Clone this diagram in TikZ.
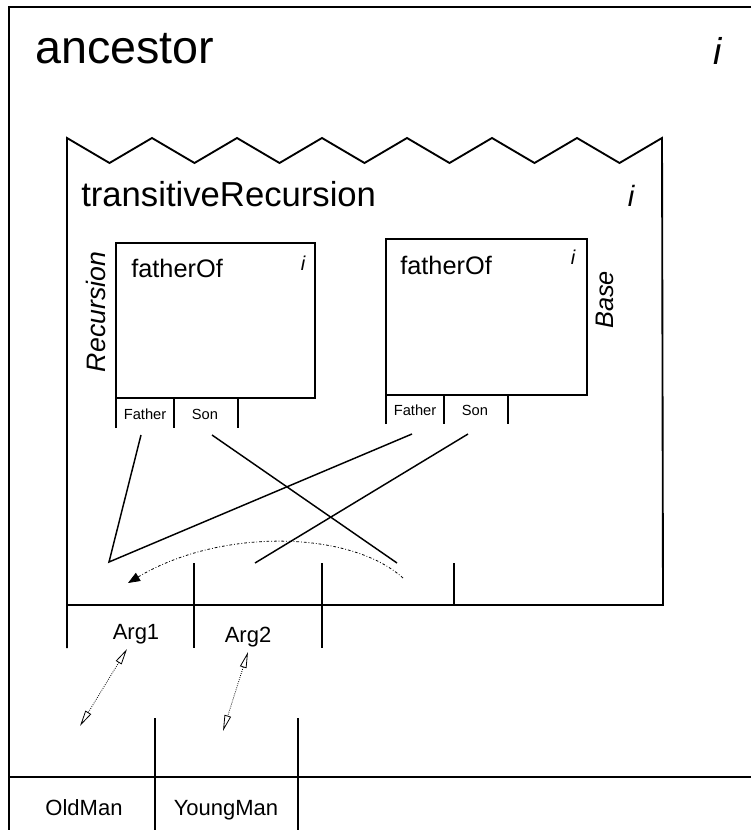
\documentclass[tikz,border=0pt]{standalone}
\usepackage{fontspec}
\setmainfont{Liberation Sans}
\usepackage{tikz}
\usetikzlibrary{arrows.meta, positioning, calc}

\begin{document}
\begin{tikzpicture}[x=0.75pt, y=-0.75pt,
  frame/.style={draw, line width=1.4pt},
  tick/.style={draw, line width=0.9pt},
  link/.style={draw, line width=1.1pt},
  lbl/.style={inner sep=0pt, font=\fontsize{16.5}{18}\selectfont},
  portlbl/.style={inner sep=0pt, font=\fontsize{11}{12}\selectfont},
  inst/.style={inner sep=0pt, font=\itshape}
]
  \useasboundingbox (0,0) rectangle (751,830);

  % outer context
  \draw[frame] (751,7) -- (9,7) -- (9,830);
  \draw[frame] (9,777) -- (751,777);
  \draw[tick] (155,718) -- (155,830);
  \draw[tick] (298,718) -- (298,830);
  \node[inner sep=0pt, anchor=base west, font=\fontsize{35}{40}\selectfont] (ancestorLbl) at (35,64) {ancestor};
  \node[inst, font=\itshape\fontsize{28}{30}\selectfont] (ancestorI) at (718,51) {i};
  \node[lbl, anchor=base] (oldMan) at (84,815) {OldMan};
  \node[lbl, anchor=base] (youngMan) at (226,815) {YoungMan};

  % transitiveRecursion box with torn top edge
  \draw[frame] (67,648) -- (67,138)
    \foreach \k in {0,...,6} { -- ({67+85*\k+42.5},163) -- ({67+85*(\k+1)},138) }
    -- (663,605) -- (67,605);
  \node[inner sep=0pt, anchor=base west, font=\fontsize{26}{30}\selectfont] (transLbl) at (81,207) {transitiveRecursion};
  \node[inst, font=\itshape\fontsize{22}{24}\selectfont] (transI) at (631,196) {i};
  \foreach \x in {194,322,454} \draw[tick] (\x,563) -- (\x,605);
  \foreach \x in {194,322} \draw[frame] (\x,605) -- (\x,648);
  \node[lbl, anchor=base] (argOne) at (136,639) {Arg1};
  \node[lbl, anchor=base] (argTwo) at (248,642) {Arg2};

  % recursion fatherOf
  \draw[frame] (116,428) -- (116,243) -- (315,243) -- (315,398) -- (116,398);
  \foreach \x in {174,238} \draw[tick] (\x,398) -- (\x,428);
  \node[inner sep=0pt, anchor=base west, font=\fontsize{19}{22}\selectfont] (recFather) at (131,277) {fatherOf};
  \node[inst, font=\itshape\fontsize{15}{16}\selectfont] (recI) at (303,263) {i};
  \node[inst, rotate=90, font=\itshape\fontsize{20}{22}\selectfont] (recLbl) at (96,312) {Recursion};
  \node[portlbl] (recFatherPort) at (145,414) {Father};
  \node[portlbl] (recSonPort) at (205,414) {Son};

  % base fatherOf
  \draw[frame] (386,424) -- (386,239) -- (587,239) -- (587,395) -- (386,395);
  \foreach \x in {444,508} \draw[tick] (\x,395) -- (\x,424);
  \node[inner sep=0pt, anchor=base west, font=\fontsize{19}{22}\selectfont] (baseFather) at (400,275) {fatherOf};
  \node[inst, font=\itshape\fontsize{15}{16}\selectfont] (baseI) at (573,257) {i};
  \node[inst, rotate=90, font=\itshape\fontsize{19}{22}\selectfont] (baseLbl) at (605,300) {Base};
  \node[portlbl] (baseFatherPort) at (415,410) {Father};
  \node[portlbl] (baseSonPort) at (475,410) {Son};

  % bindings
  \coordinate (recFatherEnd) at (141,435);
  \coordinate (recSonEnd) at (212,435);
  \coordinate (baseFatherEnd) at (412,434);
  \coordinate (baseSonEnd) at (468,434);
  \coordinate (joinOne) at (109,562);
  \coordinate (sonOut) at (397,563);
  \coordinate (baseSonOut) at (255,563);
  \draw[link] (recFatherEnd) -- (joinOne) -- (baseFatherEnd);
  \draw[link] (recSonEnd) -- (sonOut);
  \draw[link] (baseSonEnd) -- (baseSonOut);

  \coordinate (loopStart) at (403,578);
  \coordinate (loopEnd) at (128,583);
  \draw[line width=0.6pt, dash pattern=on 2pt off 1.5pt on 0.6pt off 1.5pt, -{Triangle[length=9pt,width=7pt]}]
    (loopStart) .. controls (350,530) and (220,528) .. (loopEnd);

  % argument mapping
  \coordinate (argOneTop) at (127,649);
  \coordinate (argOneBot) at (80,726);
  \coordinate (argTwoTop) at (248,652);
  \coordinate (argTwoBot) at (223,731);
  \draw[line width=0.6pt, densely dotted, {Triangle[open,length=12pt,width=5pt]}-{Triangle[open,length=12pt,width=5pt]}] (argOneTop) -- (argOneBot);
  \draw[line width=0.6pt, densely dotted, {Triangle[open,length=12pt,width=5pt]}-{Triangle[open,length=12pt,width=5pt]}] (argTwoTop) -- (argTwoBot);
\end{tikzpicture}
\end{document}
